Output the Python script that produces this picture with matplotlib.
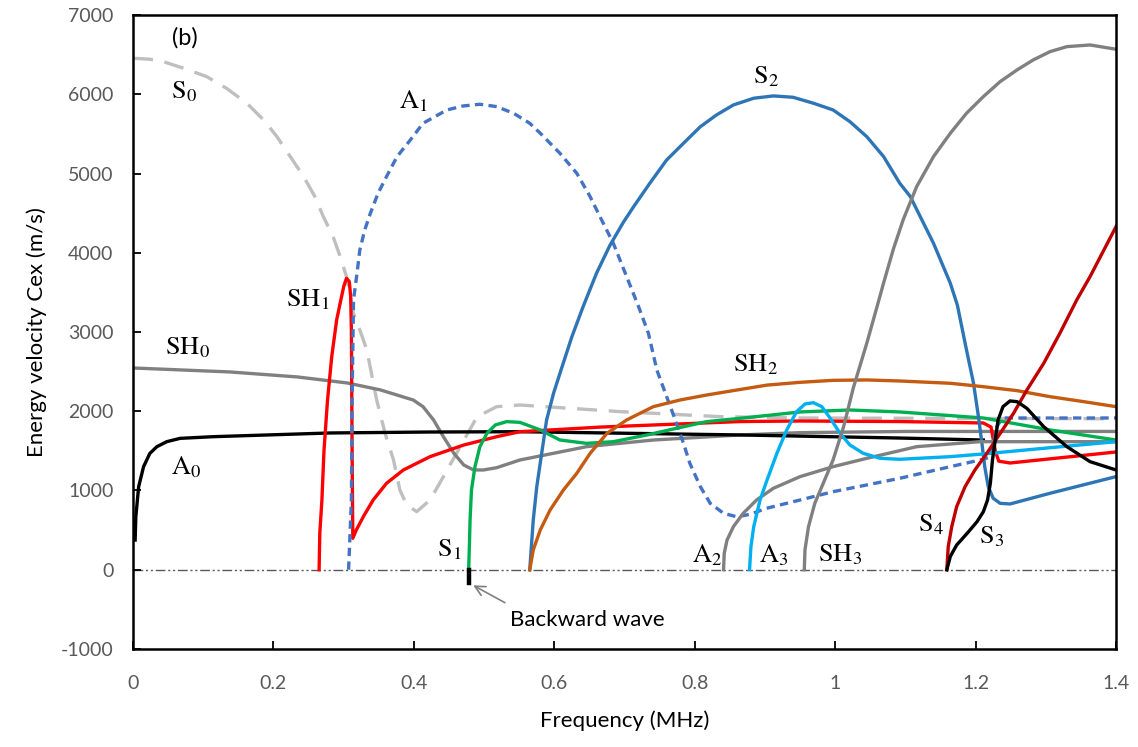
import matplotlib
matplotlib.use("Agg")
import matplotlib.pyplot as plt

# ---- data (frequency MHz, energy velocity m/s) ----
s0_f = [0.0, 0.024, 0.043, 0.072, 0.105, 0.133, 0.162, 0.186, 0.205, 0.224, 0.243, 0.259,
        0.271, 0.285, 0.295, 0.304, 0.314, 0.323, 0.333, 0.347, 0.359, 0.371, 0.380, 0.390,
        0.404, 0.423, 0.442, 0.466, 0.490, 0.518, 0.551, 0.694, 0.836, 0.950, 1.4]
s0_v = [6454, 6442, 6412, 6328, 6222, 6076, 5887, 5676, 5465, 5213, 4961, 4708,
        4456, 4203, 3951, 3699, 3236, 3026, 2773, 2142, 1721, 1385, 1007, 817,
        733, 880, 1174, 1553, 1931, 2058, 2079, 1995, 1932, 1915, 1905]

a1_f = [0.307, 0.311, 0.312, 0.314, 0.319, 0.323, 0.330, 0.338, 0.349, 0.361, 0.376, 0.395,
        0.413, 0.447, 0.470, 0.494, 0.518, 0.542, 0.565, 0.580, 0.608, 0.632, 0.651, 0.665,
        0.684, 0.703, 0.720, 0.734, 0.746, 0.760, 0.774, 0.784, 0.793, 0.808, 0.822, 0.841,
        0.860, 0.879, 0.902, 0.950, 0.997, 1.045, 1.092, 1.164, 1.211, 1.222, 1.230, 1.238,
        1.40]
a1_v = [0, 880, 2142, 3404, 3741, 4035, 4288, 4498, 4751, 4961, 5213, 5424,
        5634, 5802, 5852, 5874, 5844, 5760, 5634, 5508, 5255, 5003, 4708, 4456,
        4120, 3699, 3320, 2984, 2521, 2184, 1848, 1595, 1343, 1048, 838, 712,
        668, 700, 775, 880, 985, 1070, 1154, 1301, 1394, 1430, 1800, 1915,
        1915]

sh1_f = [0.265, 0.266, 0.269, 0.272, 0.277, 0.283, 0.290, 0.295, 0.300, 0.304, 0.308, 0.310,
         0.311, 0.312, 0.313, 0.318, 0.328, 0.342, 0.361, 0.385, 0.423, 0.471, 0.518, 0.551,
         0.665, 0.865, 0.950, 1.092, 1.211, 1.222, 1.228, 1.233, 1.249, 1.40]
sh1_v = [0, 460, 880, 1511, 2142, 2689, 3152, 3364, 3572, 3678, 3635, 3446,
         3000, 1500, 397, 502, 670, 880, 1091, 1259, 1427, 1574, 1679, 1742,
         1800, 1870, 1877, 1870, 1852, 1800, 1500, 1370, 1347, 1486]

sh0_f = [0.0, 0.138, 0.234, 0.305, 0.352, 0.399, 0.413, 0.428, 0.442, 0.457, 0.471, 0.485,
         0.499, 0.518, 0.551, 0.646, 0.741, 0.865, 0.950, 1.10, 1.40]
sh0_v = [2546, 2496, 2433, 2357, 2270, 2142, 2058, 1890, 1679, 1469, 1322, 1259,
         1259, 1288, 1385, 1553, 1637, 1701, 1730, 1745, 1745]

a0_f = [0.003, 0.004, 0.008, 0.015, 0.024, 0.034, 0.048, 0.067, 0.114, 0.281, 0.423, 0.551,
        0.865, 1.092, 1.211]
a0_v = [375, 670, 1048, 1301, 1469, 1553, 1616, 1658, 1679, 1726, 1738, 1742,
        1701, 1662, 1637]

s1_f = [0.478, 0.479, 0.480, 0.482, 0.487, 0.494, 0.504, 0.516, 0.532, 0.551, 0.580, 0.608,
        0.646, 0.684, 0.732, 0.774, 0.817, 0.865, 0.950, 1.021, 1.092, 1.211, 1.306, 1.40]
s1_v = [0, 291, 628, 1006, 1301, 1553, 1721, 1827, 1869, 1860, 1764, 1637,
        1595, 1616, 1701, 1785, 1869, 1911, 1991, 2016, 1991, 1915, 1764, 1637]

backward_f = [0.478, 0.478]
backward_v = [0, -170]

s2_f = [0.565, 0.570, 0.575, 0.582, 0.589, 0.599, 0.611, 0.625, 0.641, 0.660,
        0.679, 0.698, 0.713, 0.736, 0.760, 0.784, 0.808, 0.831, 0.855, 0.884, 0.912, 0.940,
        0.969, 0.997, 1.021, 1.045, 1.069, 1.092, 1.107, 1.140, 1.164, 1.174, 1.187, 1.197,
        1.204, 1.209, 1.213, 1.218, 1.225, 1.235, 1.249, 1.306, 1.40]
s2_v = [0, 628, 1048, 1469, 1890, 2230, 2560, 2940, 3320, 3740,
        4090, 4380, 4582, 4877, 5171, 5382, 5591, 5739, 5865, 5950, 5979, 5962,
        5887, 5802, 5654, 5465, 5213, 4877, 4709, 4120, 3615, 3340, 2775, 2355,
        1934, 1596, 1301, 1048, 902, 838, 830, 965, 1175]

sh2_f = [0.565, 0.570, 0.580, 0.594, 0.613, 0.632, 0.651, 0.675, 0.703, 0.741, 0.779, 0.817,
         0.860, 0.903, 0.950, 0.997, 1.045, 1.092, 1.164, 1.211, 1.259, 1.306, 1.354, 1.40]
sh2_v = [0, 250, 502, 754, 1007, 1217, 1469, 1721, 1890, 2058, 2142, 2205,
         2268, 2330, 2365, 2390, 2395, 2382, 2353, 2310, 2260, 2184, 2121, 2058]

a2_f = [0.841, 0.842, 0.846, 0.855, 0.869, 0.888, 0.912, 0.950, 0.997, 1.045, 1.092, 1.116,
        1.206, 1.40]
a2_v = [0, 208, 375, 543, 712, 880, 1028, 1175, 1301, 1406, 1503, 1553,
        1616, 1616]

a3_f = [0.878, 0.880, 0.884, 0.893, 0.903, 0.917, 0.931, 0.945, 0.957, 0.969, 0.981, 0.993,
        1.007, 1.021, 1.040, 1.064, 1.092, 1.164, 1.211, 1.306, 1.40]
a3_v = [0, 291, 543, 880, 1133, 1469, 1764, 1995, 2092, 2108, 2058, 1911,
        1721, 1574, 1469, 1406, 1394, 1427, 1461, 1540, 1616]

sh3_f = [0.956, 0.957, 0.962, 0.971, 0.983, 0.997, 1.012, 1.026, 1.045, 1.059, 1.069, 1.083,
         1.097, 1.116, 1.140, 1.164, 1.187, 1.211, 1.235, 1.259, 1.282, 1.306, 1.330, 1.363,
         1.40]
sh3_v = [0, 252, 543, 839, 1091, 1385, 1805, 2300, 2858, 3300, 3620, 4050,
         4420, 4834, 5213, 5508, 5760, 5970, 6160, 6307, 6433, 6538, 6601, 6622,
         6568]

s4_f = [1.159, 1.161, 1.166, 1.173, 1.185, 1.199, 1.216, 1.235, 1.254, 1.273, 1.297, 1.320,
        1.344, 1.363, 1.40]
s4_v = [0, 291, 543, 796, 1048, 1259, 1469, 1721, 1974, 2268, 2605, 2984,
        3404, 3699, 4330]

s3_f = [1.159, 1.164, 1.173, 1.188, 1.202, 1.211, 1.217, 1.221, 1.224, 1.228, 1.232, 1.239,
        1.249, 1.259, 1.273, 1.297, 1.330, 1.363, 1.40]
s3_v = [0, 168, 312, 460, 606, 732, 880, 1091, 1385, 1637, 1890, 2058,
        2130, 2121, 2037, 1805, 1553, 1364, 1259]

# mode labels: text, frequency, velocity
mode_labels = [
    (r'$\mathrm{S}_0$', 0.073, 6030),
    (r'$\mathrm{A}_1$', 0.399, 5914),
    (r'$\mathrm{SH}_1$', 0.249, 3404),
    (r'$\mathrm{SH}_0$', 0.077, 2800),
    (r'$\mathrm{A}_0$', 0.075, 1300),
    (r'$\mathrm{S}_1$', 0.450, 250),
    (r'$\mathrm{S}_2$', 0.902, 6218),
    (r'$\mathrm{SH}_2$', 0.886, 2585),
    (r'$\mathrm{A}_2$', 0.818, 187),
    (r'$\mathrm{A}_3$', 0.912, 187),
    (r'$\mathrm{SH}_3$', 1.007, 187),
    (r'$\mathrm{S}_4$', 1.137, 565),
    (r'$\mathrm{S}_3$', 1.223, 414),
]

plt.rcParams['font.family'] = ['Lato', 'DejaVu Sans']
plt.rcParams['mathtext.fontset'] = 'stix'
plt.rcParams['axes.unicode_minus'] = False
plt.rcParams['lines.solid_joinstyle'] = 'round'

fig = plt.figure(figsize=(11.38, 7.47), dpi=100)
ax = fig.add_axes([0.1169, 0.1312, 0.8638, 0.8487])

lw = 2.4
ax.axhline(0, color='#595959', lw=1.0, dashes=(7, 2, 1.5, 2, 1.5, 2), zorder=1)

ax.plot(s0_f, s0_v, color='#BFBFBF', lw=lw, dashes=(6, 3.5))
ax.plot(sh0_f, sh0_v, color='#808080', lw=lw)
ax.plot(a0_f, a0_v, color='black', lw=lw)
ax.plot(sh1_f, sh1_v, color='#FF0000', lw=lw)
ax.plot(a1_f, a1_v, color='#4472C4', lw=lw, dashes=(2.5, 1.6))
ax.plot(s1_f, s1_v, color='#00B050', lw=lw)
ax.plot(backward_f, backward_v, color='black', lw=3.2)
ax.plot(s2_f, s2_v, color='#2E75B6', lw=lw)
ax.plot(sh2_f, sh2_v, color='#C55A11', lw=lw)
ax.plot(a2_f, a2_v, color='#808080', lw=lw)
ax.plot(a3_f, a3_v, color='#00B0F0', lw=lw)
ax.plot(sh3_f, sh3_v, color='#808080', lw=lw)
ax.plot(s4_f, s4_v, color='#C00000', lw=lw)
ax.plot(s3_f, s3_v, color='black', lw=lw)

for txt, fx, vy in mode_labels:
    ax.text(fx, vy, txt, fontsize=19, ha='center', va='center', color='black')

ax.text(0.074, 6709, '(b)', fontsize=17, ha='center', va='center')

ax.annotate('', xy=(0.481, -180), xytext=(0.533, -432),
            arrowprops=dict(arrowstyle='->', color='#7F7F7F', lw=1.2, mutation_scale=18))
ax.text(0.537, -634, 'Backward wave', fontsize=16, ha='left', va='center')

ax.set_xlim(0, 1.4)
ax.set_ylim(-1000, 7000)
ax.set_xticks([0, 0.2, 0.4, 0.6, 0.8, 1.0, 1.2, 1.4])
ax.set_xticklabels(['0', '0.2', '0.4', '0.6', '0.8', '1', '1.2', '1.4'])
ax.set_yticks(range(-1000, 7001, 1000))
ax.tick_params(direction='in', length=6, width=1.3, colors='black',
               labelcolor='#595959', labelsize=14, pad=14)
ax.tick_params(axis='x', pad=19)
for sp in ax.spines.values():
    sp.set_linewidth(1.8)

ax.set_xlabel('Frequency (MHz)', fontsize=16, labelpad=13)
ax.set_ylabel('Energy velocity Cex (m/s)', fontsize=16, labelpad=10)

fig.savefig('out.png', dpi=100)
